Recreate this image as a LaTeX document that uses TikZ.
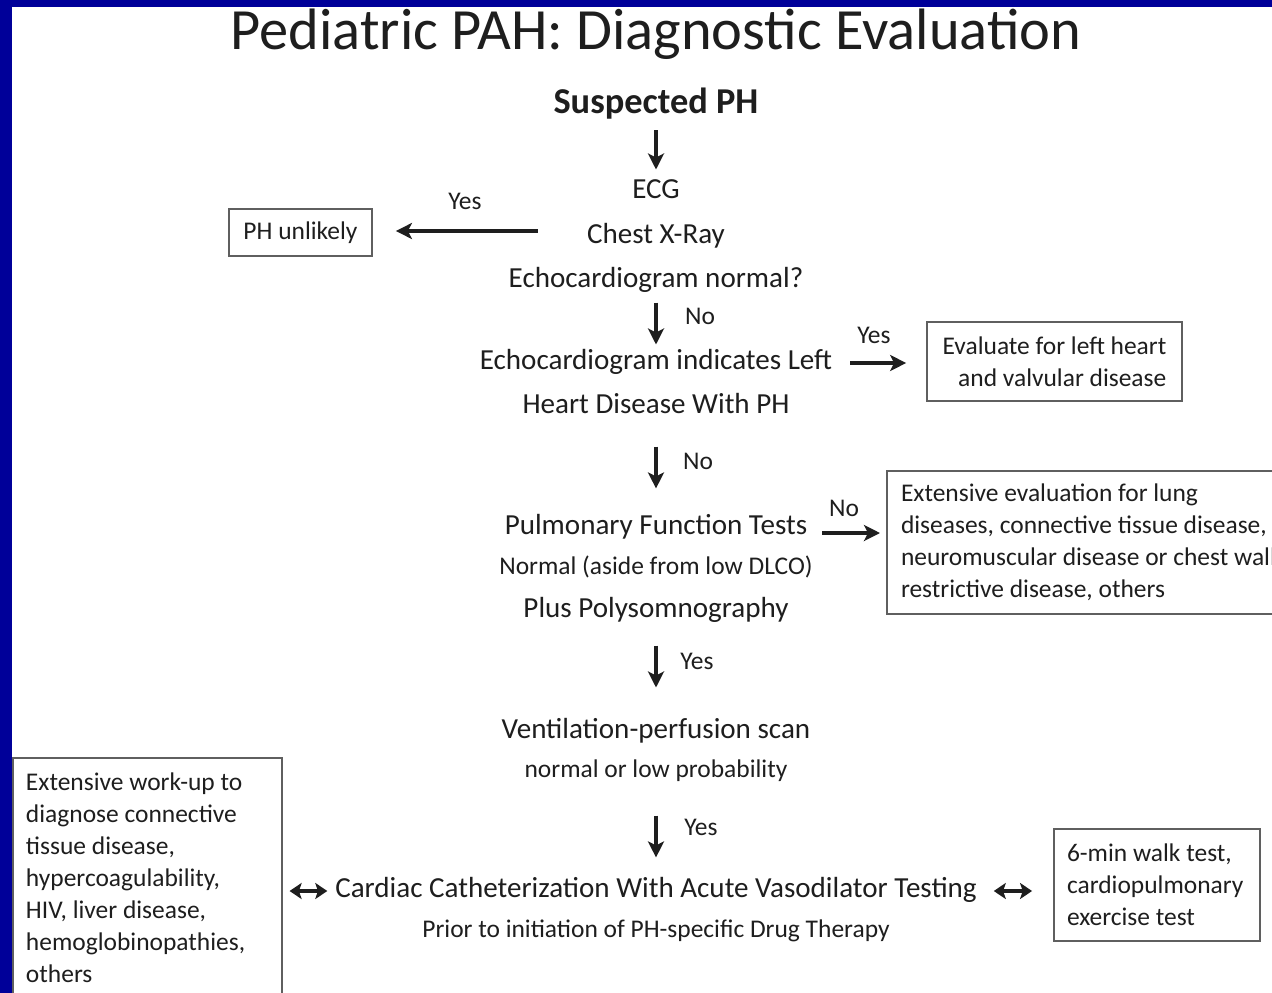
\documentclass[tikz,border=0pt]{standalone}
\usepackage{fontspec}
\setmainfont{Carlito}
\usetikzlibrary{arrows.meta,calc}

\definecolor{slideblue}{RGB}{0,0,153}
\definecolor{inkc}{RGB}{30,30,30}
\definecolor{framec}{RGB}{95,95,95}

\tikzset{every picture/.style={line width=0.75pt}}
\tikzset{
  bigtxt/.style={inner sep=0pt, text=inkc, font=\fontsize{21.8}{26}\selectfont, text height=15pt, text depth=5pt},
  smalltxt/.style={inner sep=0pt, text=inkc, font=\fontsize{19.1}{24}\selectfont, text height=13pt, text depth=4.5pt},
  flowarr/.style={draw=inkc, line width=2.5pt, -{Stealth[length=12pt,width=12pt,inset=3pt]}},
  botharr/.style={draw=inkc, line width=3pt, {Stealth[length=9pt,width=12pt,inset=2pt]}-{Stealth[length=9pt,width=12pt,inset=2pt]}},
  infobox/.style={draw=framec, line width=1.5pt, text=inkc, font=\fontsize{19.1}{24}\selectfont, align=flush left},
}

\begin{document}
\begin{tikzpicture}[x=0.75pt,y=0.75pt,yscale=-1,xscale=1]
\useasboundingbox (0,0) rectangle (1272,993);
\clip (0,0) rectangle (1272,993);

%Shape: Rectangle (slide frame)
\fill [slideblue] (0,0) rectangle (1272,993);
\fill [white] (12,7) rectangle (1272,993);

% Text Node
\draw (656,49) node [anchor=base, inner sep=0pt, text=inkc, font=\fontsize{43.8}{50}\selectfont] (title) {Pediatric PAH: Diagnostic Evaluation};
% Text Node
\draw (656,105) node [bigtxt, font=\bfseries\fontsize{27.3}{32}\selectfont, text height=19pt, text depth=6pt] (suspected) {Suspected PH};
% Text Node
\draw (656,192) node [bigtxt] (ecg) {ECG};
% Text Node
\draw (656,237) node [bigtxt] (cxr) {Chest X-Ray};
% Text Node
\draw (656,281) node [bigtxt] (echonorm) {Echocardiogram normal?};
% Text Node
\draw (656,363) node [bigtxt] (leftheart) {Echocardiogram indicates Left};
% Text Node
\draw (656,407) node [bigtxt] (heartph) {Heart Disease With PH};
% Text Node
\draw (656,528) node [bigtxt] (pft) {Pulmonary Function Tests};
% Text Node
\draw (656,569) node [smalltxt] (dlco) {Normal (aside from low DLCO)};
% Text Node
\draw (656,611) node [bigtxt] (poly) {Plus Polysomnography};
% Text Node
\draw (656,732) node [bigtxt] (vq) {Ventilation-perfusion scan};
% Text Node
\draw (656,772) node [smalltxt] (lowprob) {normal or low probability};
% Text Node
\draw (656,891) node [bigtxt] (cath) {Cardiac Catheterization With Acute Vasodilator Testing};
% Text Node
\draw (656,932) node [smalltxt] (prior) {Prior to initiation of PH-specific Drug Therapy};

%Shape: Rectangle
\draw (300.5,232.5) node [infobox, align=center, minimum width=107pt, minimum height=35pt, inner sep=0pt] (unlikely) {PH unlikely};
%Shape: Rectangle
\draw (1054.5,361.5) node [infobox, align=right, minimum width=191pt, minimum height=59pt, inner sep=0pt] (leftbox) {Evaluate for left heart\\and valvular disease};
%Shape: Rectangle
\draw (886,470) node [infobox, anchor=north west, text width=290pt, inner xsep=10.5pt, inner ysep=0pt, minimum height=107pt] (lungbox) {Extensive evaluation for lung\\diseases, connective tissue disease,\\neuromuscular disease or chest wall\\restrictive disease, others};
%Shape: Rectangle
\draw (12,757) node [infobox, anchor=north west, text width=182pt, inner xsep=9.75pt, inner ysep=0pt, minimum height=180pt] (workup) {Extensive work-up to\\diagnose connective\\tissue disease,\\hypercoagulability,\\HIV, liver disease,\\hemoglobinopathies,\\others};
%Shape: Rectangle
\draw (1157,885) node [infobox, text width=135pt, inner xsep=9.75pt, inner ysep=0pt, minimum height=84pt] (walk) {6-min walk test,\\cardiopulmonary\\exercise test};

% Text Node
\draw (465,204) node [smalltxt] (yesa) {Yes};
% Text Node
\draw (700,319) node [smalltxt] (noa) {No};
% Text Node
\draw (874,338) node [smalltxt] (yesb) {Yes};
% Text Node
\draw (698,464) node [smalltxt] (nob) {No};
% Text Node
\draw (844,511) node [smalltxt] (noc) {No};
% Text Node
\draw (697,664) node [smalltxt] (yesc) {Yes};
% Text Node
\draw (701,830) node [smalltxt] (yesd) {Yes};

%Straight Lines
\draw [flowarr, shorten <=6.2pt, shorten >=6.5pt] (suspected) -- (ecg);
\draw [flowarr, shorten <=36.8pt, shorten >=17.3pt] ($(cxr.west)+(0,-6)$) -- ($(cxr.west -| unlikely.east)+(0,-6)$);
\draw [flowarr, shorten <=5.8pt, shorten >=3.5pt] (echonorm) -- (leftheart);
\draw [flowarr, shorten <=13pt, shorten >=15pt] (leftheart.east) -- (leftheart.east -| leftbox.west);
\draw [flowarr, shorten <=19.3pt, shorten >=19.3pt] (heartph) -- (pft);
\draw [flowarr, shorten <=11pt, shorten >=4.5pt] ($(pft.east)+(0,5)$) -- ($(pft.east -| lungbox.west)+(0,5)$);
\draw [flowarr, shorten <=15.5pt, shorten >=23pt] (poly) -- (vq);
\draw [flowarr, shorten <=23.5pt, shorten >=14.8pt] (lowprob) -- (cath);
\draw [botharr, shorten <=5.6pt, shorten >=5.2pt] (cath.west) -- (cath.west -| workup.east);
\draw [botharr, shorten <=12.4pt, shorten >=15.7pt] (cath.east) -- (cath.east -| walk.west);

\end{tikzpicture}
\end{document}
